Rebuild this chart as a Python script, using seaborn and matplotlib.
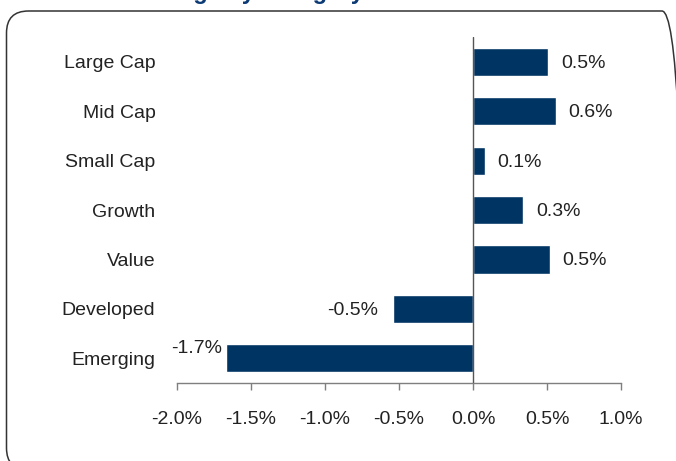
import matplotlib
matplotlib.use("Agg")
import matplotlib.pyplot as plt
from matplotlib.patches import FancyBboxPatch
from matplotlib.ticker import FuncFormatter
import seaborn as sns
import pandas as pd

categories = ["Large Cap", "Mid Cap", "Small Cap", "Growth", "Value", "Developed", "Emerging"]
changes = [0.51, 0.56, 0.08, 0.34, 0.52, -0.54, -1.67]
x_ticks = [-2.0, -1.5, -1.0, -0.5, 0.0, 0.5, 1.0]

df = pd.DataFrame({"category": categories, "change": changes})

sns.set_theme(style="white")
plt.rcParams["font.family"] = ["Liberation Sans Narrow", "Liberation Sans", "DejaVu Sans"]

NAVY = "#003463"
TEXT = "#222222"
AXIS = "#7f7f7f"

fig = plt.figure(figsize=(6.76, 4.61), dpi=100)
ax = fig.add_axes([177 / 676, 78 / 461, 444 / 676, 345.7 / 461])

sns.barplot(data=df, x="change", y="category", orient="h", color=NAVY,
            saturation=1, width=0.57, ax=ax)

ax.set_xlim(-2.0, 1.0)
ax.set_ylim(6.5, -0.5)
ax.set_xticks(x_ticks)
ax.xaxis.set_major_formatter(FuncFormatter(lambda v, p: f"{v:.1f}%"))
ax.set_xlabel("")
ax.set_ylabel("")

for side in ["top", "right", "left"]:
    ax.spines[side].set_visible(False)
ax.spines["bottom"].set_color(AXIS)
ax.spines["bottom"].set_linewidth(1.0)
ax.axvline(0, color="#555555", lw=1.0, zorder=3)

ax.tick_params(axis="x", which="major", bottom=True, direction="out", length=5,
               width=1.0, color=AXIS, pad=15, labelsize=14, labelcolor=TEXT)
ax.tick_params(axis="y", left=False, pad=9.5, labelsize=14, labelcolor=TEXT)

# value labels next to each bar
for i, v in enumerate(changes):
    label = f"{v:.1f}%"
    if v >= 0:
        ax.annotate(label, (v, i), xytext=(9, -1), textcoords="offset points",
                    ha="left", va="center", fontsize=14, color=TEXT)
    elif v > -1.0:
        ax.annotate(label, (v, i), xytext=(-11, -1), textcoords="offset points",
                    ha="right", va="center", fontsize=14, color=TEXT)
    else:
        ax.annotate(label, (v, i), xytext=(-3, 7), textcoords="offset points",
                    ha="right", va="center", fontsize=14, color=TEXT)

# heading sitting above the frame, mostly beyond the top edge
fig.text(134 / 676, 1 + 1 / 461, "Change by Category", ha="left", va="baseline",
         fontsize=17, fontweight="bold", color="#0b3a75",
         family=["Liberation Sans", "DejaVu Sans"])

# rounded outer frame
frame = FancyBboxPatch((6.5, -9), 677.5, 459, boxstyle="round,pad=0,rounding_size=22",
                       transform=None, fill=False, edgecolor="#333333", linewidth=1.1)
fig.patches.append(frame)

fig.savefig("out.png", dpi=100)
